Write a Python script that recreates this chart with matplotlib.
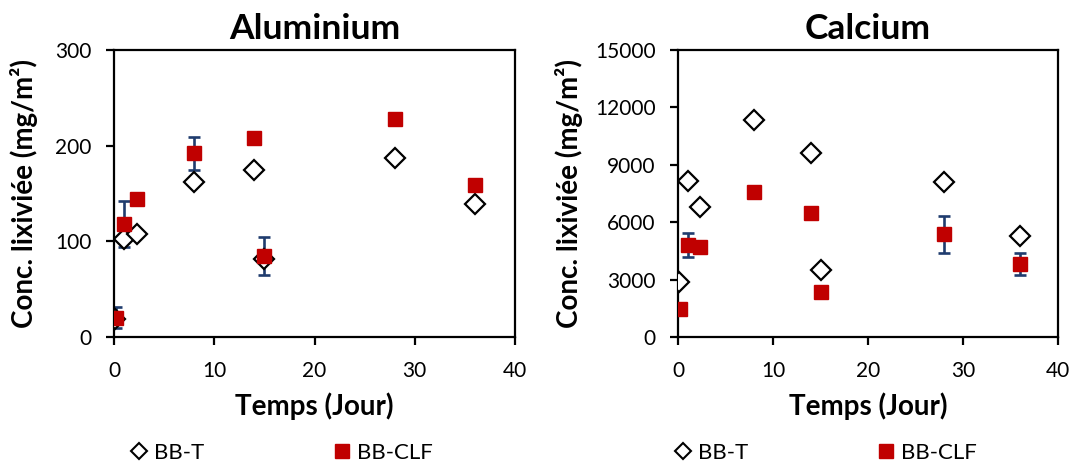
import matplotlib
matplotlib.use("Agg")
import matplotlib.pyplot as plt
from matplotlib.lines import Line2D

days_t = [0.1, 1.0, 2.3, 8.0, 14.0, 15.0, 28.0, 36.0]
days_clf = [0.2, 1.0, 2.3, 8.0, 14.0, 15.0, 28.0, 36.0]

al_bbt = [19, 102, 108, 162, 175, 82, 187, 139]
al_clf = [20, 118, 144, 192, 208, 85, 228, 159]
al_clf_err = [11, 24, 2, 17, 2, 20, 2, 2]

ca_bbt = [2850, 8150, 6810, 11340, 9600, 3500, 8090, 5300]
ca_clf = [1460, 4810, 4720, 7600, 6460, 2340, 5370, 3800]
ca_clf_err = [300, 630, 150, 200, 200, 100, 970, 575]

titles = ["Aluminium", "Calcium"]
y_limits = [(0, 300), (0, 15000)]
y_ticks = [[0, 100, 200, 300], [0, 3000, 6000, 9000, 12000, 15000]]
x_ticks = [0, 10, 20, 30, 40]
series_labels = ["BB-T", "BB-CLF"]

FONT = ["Lato", "DejaVu Sans"]
RED = "#C00000"
NAVY = "#1F3C6E"

fig = plt.figure(figsize=(10.73, 4.63), dpi=100)
axes = [fig.add_axes([114 / 1073, 1 - 337 / 463, 401 / 1073, 287 / 463]),
        fig.add_axes([678 / 1073, 1 - 337 / 463, 380 / 1073, 287 / 463])]

datasets = [(al_bbt, al_clf, al_clf_err), (ca_bbt, ca_clf, ca_clf_err)]
ylabel_x = [-0.19, -0.25]
legend_x = [0.04, -0.011]

for i, (ax, (bbt, clf, err), title, ylim, yt) in enumerate(
        zip(axes, datasets, titles, y_limits, y_ticks)):
    ax.errorbar(days_clf, clf, yerr=err, fmt="none", ecolor=NAVY, elinewidth=1.9,
                capsize=4.5, capthick=1.9, zorder=2)
    ax.plot(days_t, bbt, linestyle="none", marker="D", markersize=10.5,
            markerfacecolor="white", markeredgecolor="black", markeredgewidth=1.6,
            zorder=3)
    ax.plot(days_clf, clf, linestyle="none", marker="s", markersize=10.5,
            markerfacecolor=RED, markeredgecolor=RED, zorder=4)
    ax.set_xlim(0, 40)
    ax.set_ylim(*ylim)
    ax.set_xticks(x_ticks)
    ax.set_yticks(yt)
    for s in ax.spines.values():
        s.set_linewidth(1.6)
        s.set_color("black")
    ax.tick_params(axis="both", direction="out", length=5.5, width=1.6, labelsize=15)
    ax.tick_params(axis="y", pad=10.5)
    ax.tick_params(axis="x", pad=12)
    for lab in ax.get_xticklabels() + ax.get_yticklabels():
        lab.set_fontfamily(FONT)
    ax.set_title(title, fontsize=25.5, fontweight="bold", family=FONT, pad=8)
    ax.set_xlabel("Temps (Jour)", fontsize=20, fontweight="bold", family=FONT)
    ax.set_ylabel("Conc. lixiviée (mg/m²)", fontsize=20, fontweight="bold", family=FONT)
    ax.xaxis.set_label_coords(0.5, -0.192)
    ax.yaxis.set_label_coords(ylabel_x[i], 0.5)

    handles = [
        Line2D([], [], linestyle="none", marker="D", markersize=7.9,
               markerfacecolor="white", markeredgecolor="black", markeredgewidth=1.5),
        Line2D([], [], linestyle="none", marker="s", markersize=10.5,
               markerfacecolor=RED, markeredgecolor=RED),
    ]
    ax.legend(handles, series_labels, loc="center left",
              bbox_to_anchor=(legend_x[i], -0.404), ncol=2, frameon=False,
              prop={"family": FONT, "size": 16}, columnspacing=5.8,
              handlelength=0.8, handletextpad=0.27, borderpad=0, borderaxespad=0)

fig.savefig("out.png", dpi=100)
